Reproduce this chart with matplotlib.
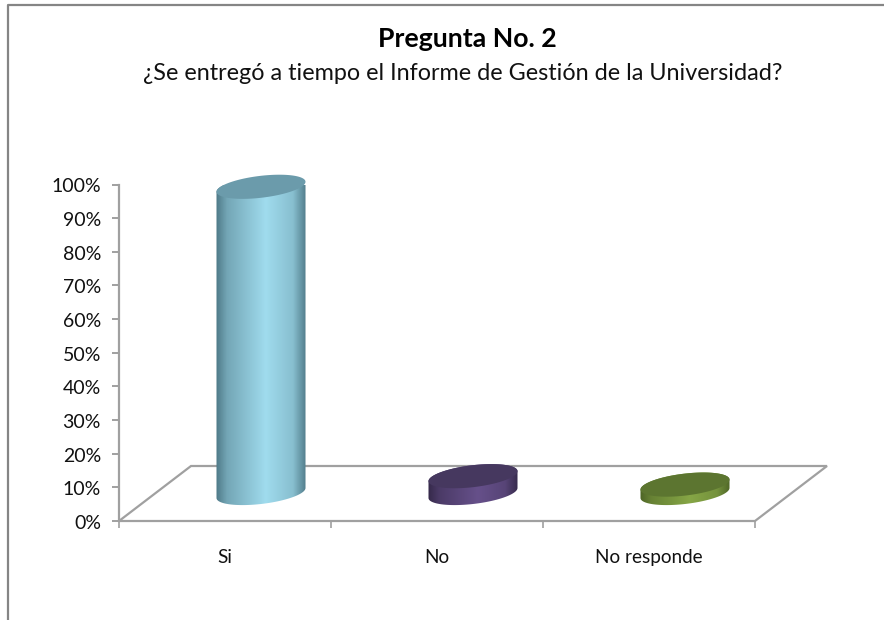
import matplotlib
matplotlib.use("Agg")
import numpy as np
import matplotlib.pyplot as plt
from matplotlib.colors import LinearSegmentedColormap, to_rgb
from matplotlib.lines import Line2D
from matplotlib.patches import PathPatch, Polygon
from matplotlib.path import Path
from matplotlib.transforms import ScaledTranslation

plt.rcParams["font.family"] = ["Lato", "DejaVu Sans"]

categories = ["Si", "No", "No responde"]
values = [91, 5, 2.5]
y_ticks = [0, 10, 20, 30, 40, 50, 60, 70, 80, 90, 100]
title = "Pregunta No. 2"
subtitle = "¿Se entregó a tiempo el Informe de Gestión de la Universidad?"

W, H = 884, 620
AX_L, AX_R, AX_T, AX_B = 119, 755, 184.5, 521
GRAY = "#a0a0a0"

# (dark edge, light centre, top face)
styles = [
    ("#4f7a88", "#a0dcee", "#6b9bab"),
    ("#35294a", "#66508a", "#46385f"),
    ("#4d6426", "#86a646", "#5c7530"),
]

fig = plt.figure(figsize=(W / 100, H / 100), dpi=100)
ax = fig.add_axes([AX_L / W, 1 - AX_B / H, (AX_R - AX_L) / W, (AX_B - AX_T) / H])
ax.set_xlim(0, len(categories))
ax.set_ylim(0, 100)

# depth of the 3D floor, in data units
px_x = len(categories) / (AX_R - AX_L)
px_y = 100 / (AX_B - AX_T)
depth_x = 72 * px_x
depth_y = 55 * px_y

for side in ["top", "right", "bottom"]:
    ax.spines[side].set_visible(False)
ax.spines["left"].set_color(GRAY)
ax.spines["left"].set_linewidth(1.6)

ax.set_yticks(y_ticks)
ax.set_yticklabels([f"{v}%" for v in y_ticks], fontsize=14, color="#111111")
ax.tick_params(axis="y", length=5, width=1.4, color=GRAY, pad=8)
nudge = ScaledTranslation(0, -1 / 100, fig.dpi_scale_trans)
for lbl in ax.get_yticklabels():
    lbl.set_transform(lbl.get_transform() + nudge)
ax.set_xticks(range(len(categories) + 1))
ax.set_xticklabels([])
ax.tick_params(axis="x", length=5, width=1.2, color=GRAY)

# floor
n = len(categories)
floor = Polygon([(0, 0), (n, 0), (n + depth_x, depth_y), (depth_x, depth_y)],
                closed=True, fill=False, ec=GRAY, lw=1.6, clip_on=False, zorder=2)
ax.add_patch(floor)

# cylinders
half_w = 44.5 * px_x
tilt = 5 * px_y  # how far the right end of an ellipse rises above its centre
minor = 11 * px_y
t = np.linspace(0, np.pi, 60)


def rim(cx, cy, angles):
    return cx + half_w * np.cos(angles), cy + tilt * np.cos(angles) + minor * np.sin(angles)


def blend(a, b, f):
    return tuple((1 - f) * x + f * y for x, y in zip(to_rgb(a), to_rgb(b)))


for i, (v, style) in enumerate(zip(values, styles)):
    cx = i + 0.5 + depth_x / 2
    base = 28 * px_y
    top = base + v

    bx, by = rim(cx, base, -t[::-1])  # front edge of the base, left to right
    tx, ty = rim(cx, top, t)          # back edge of the top, right to left
    body = Path(np.column_stack([np.r_[bx, tx], np.r_[by, ty]]))

    dark, light, face = style
    cmap = LinearSegmentedColormap.from_list("cyl", [
        (0, dark), (0.12, blend(dark, light, 0.45)), (0.55, light),
        (0.85, blend(dark, light, 0.7)), (1, dark)])
    im = ax.imshow(np.linspace(0, 1, 128).reshape(1, -1), cmap=cmap, aspect="auto",
                   extent=[cx - half_w - px_x, cx + half_w + px_x, base - 10, top + 10],
                   zorder=3, clip_on=True)
    im.set_clip_path(PathPatch(body, transform=ax.transData))

    ex, ey = rim(cx, top, np.linspace(0, 2 * np.pi, 120))
    ax.add_patch(Polygon(np.column_stack([ex, ey]), closed=True, fc=face,
                         ec="none", zorder=4, clip_on=False))

ax.set_xlim(0, n)
ax.set_ylim(0, 100)

for i, c in enumerate(categories):
    ax.annotate(c, (i + 0.5, 0), xytext=(0, -28), textcoords="offset pixels",
                ha="center", va="top", fontsize=13.6, color="#111111",
                annotation_clip=False)

fig.text(467 / W, 1 - 39 / H, title, ha="center", va="center",
         fontsize=19.2, fontweight="bold", color="black")
fig.text(462.5 / W, 1 - 73 / H, subtitle, ha="center", va="center",
         fontsize=16.8, color="#111111")

# chart frame, cropped on the right and bottom
fig.add_artist(Line2D([8 / W, 8 / W, 1], [0, 1 - 5 / H, 1 - 5 / H],
                      transform=fig.transFigure, color="#858585", lw=1.6))

fig.savefig("out.png", dpi=100)
